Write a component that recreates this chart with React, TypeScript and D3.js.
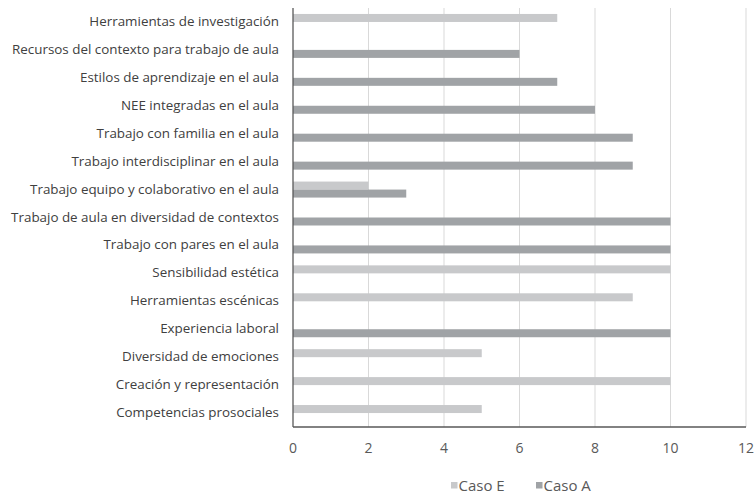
import React from "react";
import * as d3 from "d3";

const categories = [
  "Herramientas de investigación",
  "Recursos del contexto para trabajo de aula",
  "Estilos de aprendizaje en el aula",
  "NEE integradas en el aula",
  "Trabajo con familia en el aula",
  "Trabajo interdisciplinar en el aula",
  "Trabajo equipo y colaborativo en el aula",
  "Trabajo de aula en diversidad de contextos",
  "Trabajo con pares en el aula",
  "Sensibilidad estética",
  "Herramientas escénicas",
  "Experiencia laboral",
  "Diversidad de emociones",
  "Creación y representación",
  "Competencias prosociales",
];
const casoE = [7, 0, 0, 0, 0, 0, 2, 0, 0, 10, 9, 0, 5, 10, 5];
const casoA = [0, 6, 7, 8, 9, 9, 3, 10, 10, 0, 0, 10, 0, 0, 0];
const seriesNames = ["Caso E", "Caso A"];
const seriesColors = ["#c8c9cb", "#a0a3a6"];
const xTicks = [0, 2, 4, 6, 8, 10, 12];

export default function App() {
  const W = 756, H = 495;
  const left = 293, right = 746, top = 8, bottom = 427;
  const x = d3.scaleLinear().domain([0, 12]).range([left, right]);
  const y = d3.scaleBand<string>().domain(categories).range([top, bottom]);
  const inner = d3.scaleBand<string>().domain(seriesNames).range([0, 16]);
  const font = "'Open Sans', sans-serif";
  const series = [casoE, casoA];
  return (
    <svg width={W} height={H} style={{ position: "absolute", left: 0, top: 0 }}>
      <rect width={W} height={H} fill="#fff" />
      {xTicks.slice(1).map((t) => (
        <line key={t} x1={x(t)} x2={x(t)} y1={top} y2={bottom} stroke="#d9d9d9" strokeWidth={1} />
      ))}
      {series.map((vals, si) =>
        vals.map((v, i) =>
          v > 0 ? (
            <rect
              key={si + "-" + i}
              x={x(0)}
              y={(y(categories[i]) as number) + y.bandwidth() / 2 - 8 + (inner(seriesNames[si]) as number)}
              width={x(v) - x(0)}
              height={inner.bandwidth()}
              fill={seriesColors[si]}
            />
          ) : null
        )
      )}
      <line x1={left} x2={left} y1={top} y2={bottom} stroke="#595959" strokeWidth={1.3} />
      <line x1={left} x2={right} y1={bottom} y2={bottom} stroke="#595959" strokeWidth={1.3} />
      {categories.map((c) => (
        <text
          key={c}
          x={279}
          y={(y(c) as number) + y.bandwidth() / 2 - 1}
          textAnchor="end"
          dominantBaseline="central"
          fontFamily={font}
          fontSize={13.4}
          fill="#404040"
        >
          {c}
        </text>
      ))}
      {xTicks.map((t) => (
        <text key={t} x={x(t)} y={453} textAnchor="middle" fontFamily={font} fontSize={14} fill="#595959">
          {t}
        </text>
      ))}
      {seriesNames.map((s, i) => {
        const lx = [451, 536][i];
        return (
          <g key={s}>
            <rect x={lx} y={482} width={6.5} height={6.5} fill={seriesColors[i]} />
            <text x={lx + 7.5} y={491} fontFamily={font} fontSize={15} fill="#595959">
              {s}
            </text>
          </g>
        );
      })}
    </svg>
  );
}
